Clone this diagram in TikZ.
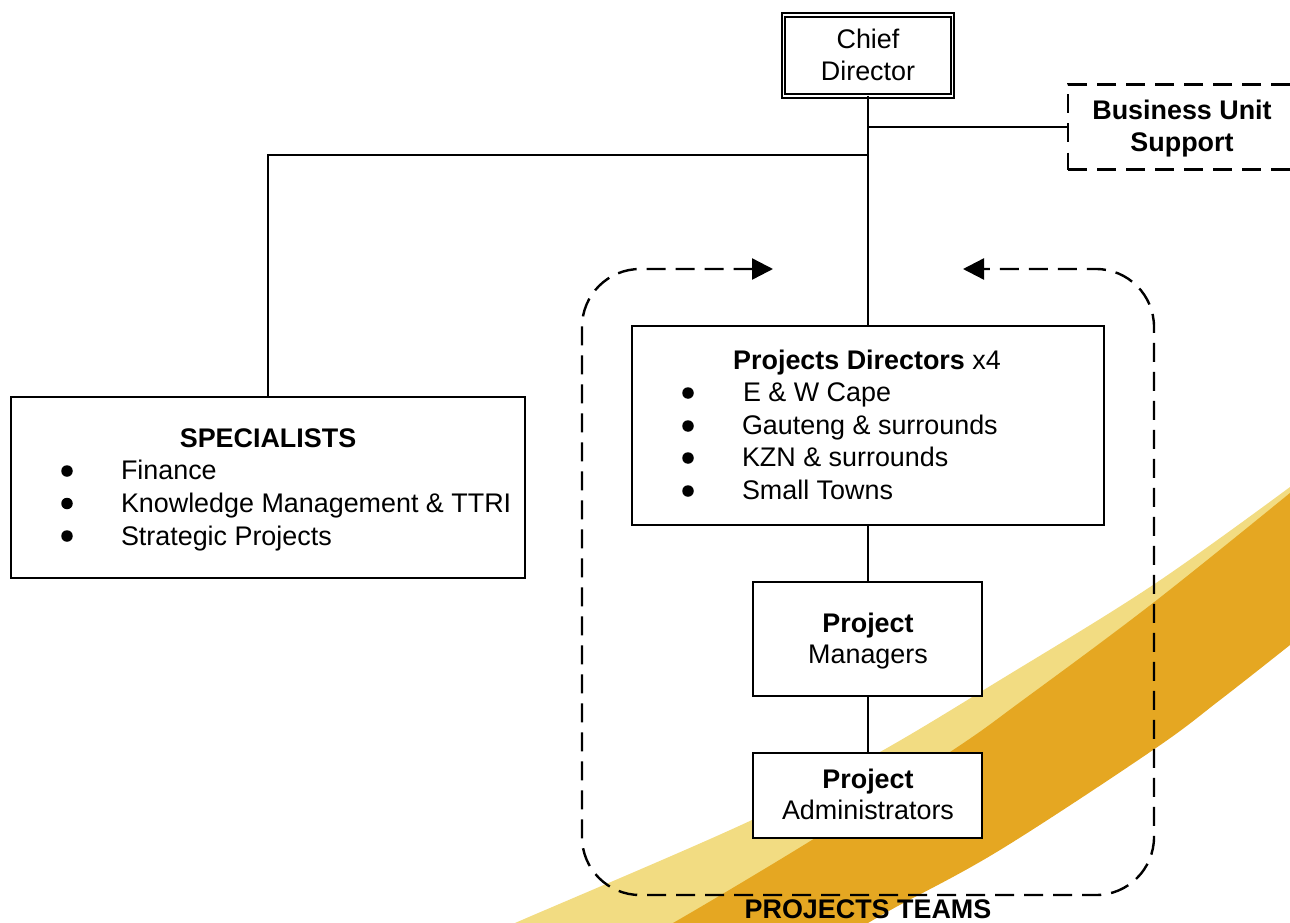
\documentclass[tikz,border=0pt]{standalone}
\usepackage{fontspec}
\setmainfont{Liberation Sans}
\usetikzlibrary{arrows.meta}
\definecolor{bandlight}{HTML}{F2DC82}
\definecolor{banddark}{HTML}{E5A722}
\tikzset{
  boxnode/.style={draw=black,fill=white,line width=2.4pt,rectangle,inner sep=0pt,outer sep=0pt},
  wire/.style={draw=black,line width=2.4pt},
  dashwire/.style={draw=black,line width=2.4pt,dash pattern=on 19pt off 10pt},
  txt/.style={inner sep=0pt,outer sep=0pt,font=\fontsize{26.9}{32}\selectfont,text=black},
  ctr/.style={txt,anchor=base},
  lft/.style={txt,anchor=base west},
  bulletdot/.style={circle,fill=black,draw=none,inner sep=0pt,minimum size=11.5pt}
}
\begin{document}
\begin{tikzpicture}[x=1pt,y=-1pt]
\useasboundingbox (0,0) rectangle (1290,923);
\clip (0,0) rectangle (1290,923);
% band
\fill[bandlight] plot[smooth,tension=0.6] coordinates {(500,930) (515,923) (752,820) (880,752) (1000,680) (1153,585) (1290,487)}
  -- (1290,510) -- (1023,720) -- (812,860) -- (700,930) -- cycle;
\fill[banddark] plot[smooth,tension=0.6] coordinates {(655,930) (673,923) (812,840) (953,750) (1023,700) (1153,603) (1290,493)}
  -- plot[smooth,tension=0.6] coordinates {(1290,645) (1220,700) (1153,750) (1000,850) (896,907) (868,923) (855,930)} -- cycle;
% boxes
\node[boxnode,minimum width=169pt,minimum height=81pt,double=white,double distance=1.6pt,line width=1.9pt] (chief) at (868,55.5) {};
\node[boxnode,dash pattern=on 19pt off 10pt,fill=none,minimum width=228pt,minimum height=85pt] (biz) at (1182,127) {};
\node[boxnode,minimum width=514pt,minimum height=181pt] (spec) at (268,487.5) {};
\node[boxnode,minimum width=472pt,minimum height=199pt] (dirs) at (868,425.5) {};
\node[boxnode,minimum width=228.5pt,minimum height=114pt] (mgrs) at (867.5,639) {};
\node[boxnode,minimum width=228.5pt,minimum height=85pt] (admins) at (867.5,795.5) {};
% junctions and arrow ends
\coordinate (j1) at (868,127);
\coordinate (j2) at (868,155);
\coordinate (tipL) at (773,269);
\coordinate (tipR) at (963,269);
\coordinate (cTL) at (582,269);
\coordinate (cBL) at (582,895);
\coordinate (cBR) at (1154,895);
\coordinate (cTR) at (1154,269);
% connectors
\draw[wire] (chief.south) -- (dirs.north);
\draw[wire] (j1) -- (biz.west);
\draw[wire] (j2) -| (spec.north);
\draw[wire] (dirs.south) -- (dirs.south |- mgrs.north);
\draw[wire] (dirs.south |- mgrs.south) -- (dirs.south |- admins.north);
\draw[dashwire,rounded corners=58pt,{Triangle[length=21pt,width=21pt]}-{Triangle[length=21pt,width=21pt]}]
  (tipL) -- (cTL) -- (cBL) -- (cBR) -- (cTR) -- (tipR);
% text
\node[ctr] (t1) at (868,49) {Chief};
\node[ctr] (t2) at (868,81) {Director};
\node[ctr] (t3) at (1182,120) {\bfseries Business Unit};
\node[ctr] (t4) at (1182,151) {\bfseries Support};
\node[ctr] (t5) at (268,447) {\bfseries SPECIALISTS};
\node[lft] (t6) at (121,479) {Finance};
\node[lft] (t7) at (121,512) {Knowledge Management \& TTRI};
\node[lft] (t8) at (121,545) {Strategic Projects};
\node[bulletdot] (b1) at (67,471) {};
\node[bulletdot] (b2) at (67,503.5) {};
\node[bulletdot] (b3) at (67,536) {};
\node[ctr] (t9) at (867,369) {\textbf{Projects Directors} x4};
\node[lft] (t10) at (743,401) {E \& W Cape};
\node[lft] (t11) at (742,434) {Gauteng \& surrounds};
\node[lft] (t12) at (742,466) {KZN \& surrounds};
\node[lft] (t13) at (742,499) {Small Towns};
\node[bulletdot] (b4) at (688,393) {};
\node[bulletdot] (b5) at (688,426) {};
\node[bulletdot] (b6) at (688,458) {};
\node[bulletdot] (b7) at (688,491) {};
\node[ctr] (t14) at (868,632) {\bfseries Project};
\node[ctr] (t15) at (868,663) {Managers};
\node[ctr] (t16) at (868,788) {\bfseries Project};
\node[ctr] (t17) at (868,819) {Administrators};
\node[ctr] (t18) at (868,918) {\bfseries PROJECTS TEAMS};
\end{tikzpicture}
\end{document}
